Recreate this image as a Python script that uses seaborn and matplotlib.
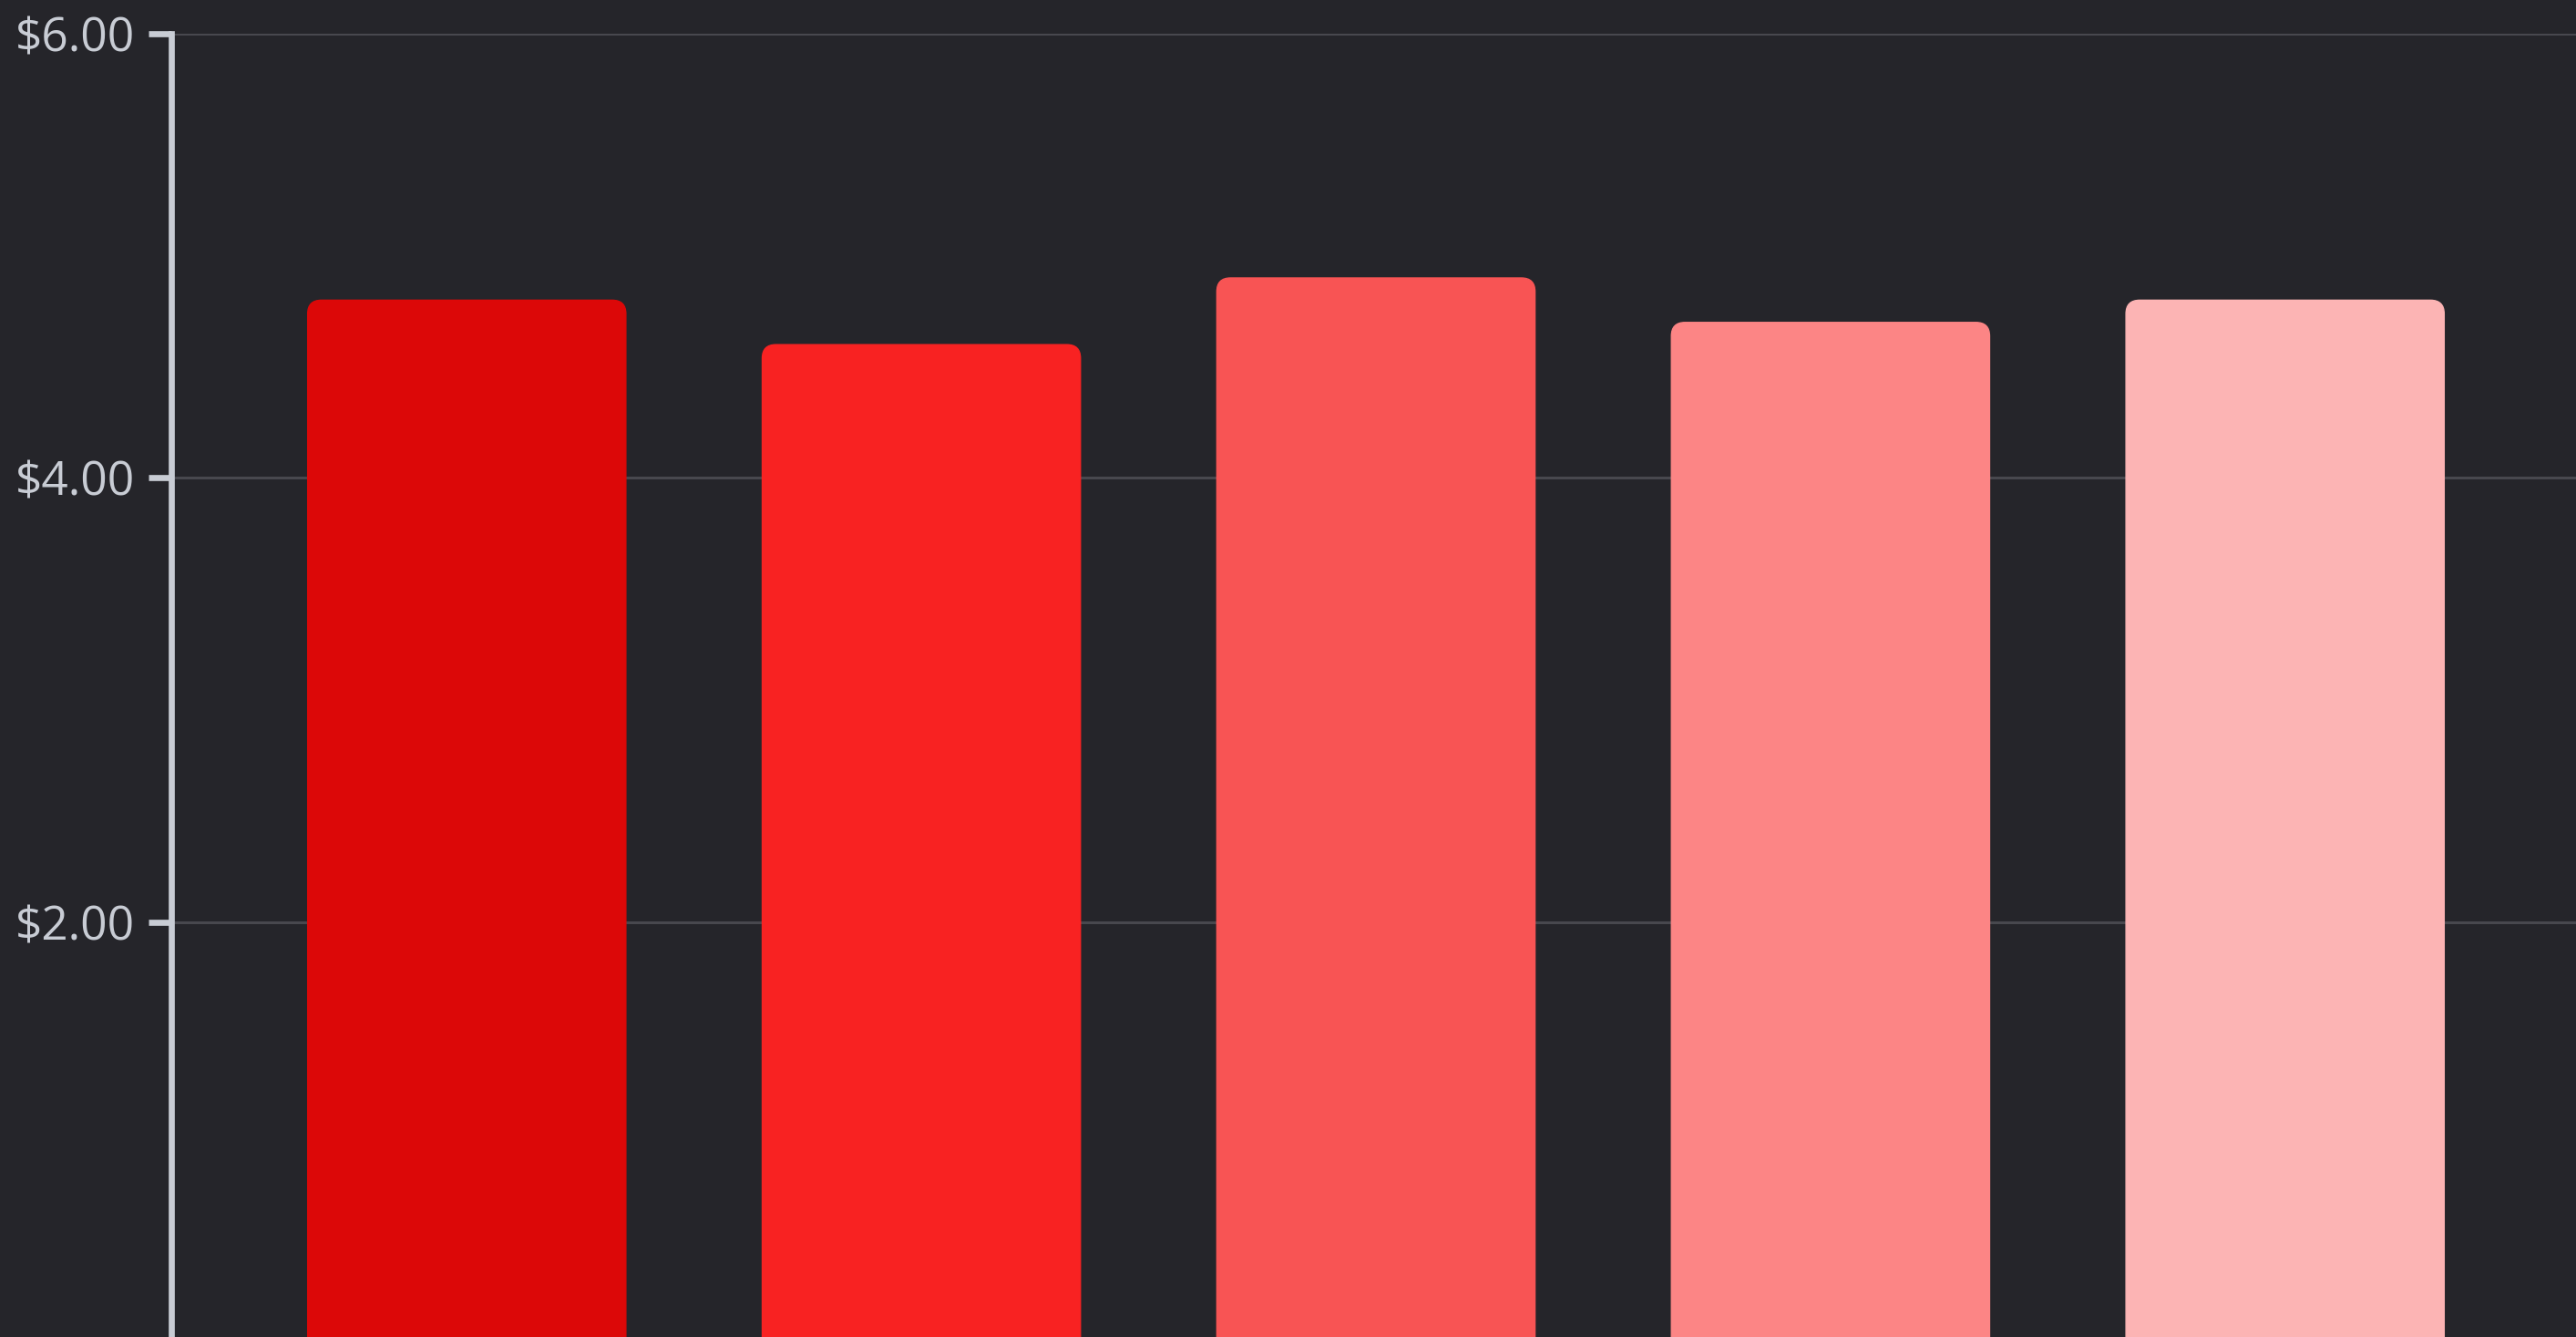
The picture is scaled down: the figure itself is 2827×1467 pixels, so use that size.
import matplotlib
matplotlib.use("Agg")
import matplotlib.pyplot as plt
import pandas as pd
import seaborn as sns
from matplotlib.patches import FancyBboxPatch
from matplotlib.ticker import FuncFormatter

# data
categories = ["A", "B", "C", "D", "E"]
prices = [4.80, 4.60, 4.90, 4.70, 4.80]
bar_colors = ["#DC0808", "#F82222", "#F85454", "#FC8585", "#FCB4B4"]
y_ticks = [2, 4, 6]

BG = "#25252A"
TEXT = "#C8CCD4"
GRID = "#48484E"

sns.set_theme(style="dark")
plt.rcParams["font.family"] = ["Open Sans", "DejaVu Sans"]

df = pd.DataFrame({"category": categories, "price": prices})

fig = plt.figure(figsize=(28.27, 14.67), dpi=100, facecolor=BG)
ax = fig.add_axes([188 / 2827, 1 - 1500 / 1467, 1 - 188 / 2827, 1500 / 1467 - 36.7 / 1467])
ax.set_facecolor(BG)

sns.barplot(data=df, x="category", y="price", hue="category", palette=bar_colors,
            width=0.7, saturation=1, legend=False, ax=ax, zorder=3)

# swap plain rectangles for rounded ones
for p in list(ax.patches):
    x, y = p.get_x(), p.get_y()
    w, h = p.get_width(), p.get_height()
    fc = p.get_facecolor()
    p.remove()
    ax.add_patch(FancyBboxPatch((x, y), w, h,
                                boxstyle="round,pad=0,rounding_size=0.03",
                                mutation_aspect=2.05, facecolor=fc,
                                edgecolor=fc, linewidth=1, zorder=3))

ax.set_xlim(-0.65, 4.64)
ax.set_ylim(0, 6)
ax.set_yticks(y_ticks)
ax.yaxis.set_major_formatter(FuncFormatter(lambda v, _: f"${v:.2f}"))
ax.set_xticks([])
ax.set_xlabel("")
ax.set_ylabel("")

ax.grid(axis="y", color=GRID, linewidth=2.2, zorder=0)
ax.grid(axis="x", visible=False)
for side in ["top", "right", "bottom"]:
    ax.spines[side].set_visible(False)
ax.spines["left"].set_color(TEXT)
ax.spines["left"].set_linewidth(4.8)
ax.spines["left"].set_zorder(4)
ax.tick_params(axis="y", colors=TEXT, labelcolor=TEXT, length=18, width=4.8,
               pad=11, labelsize=37, left=True)

fig.savefig("out.png", dpi=100, facecolor=BG)
